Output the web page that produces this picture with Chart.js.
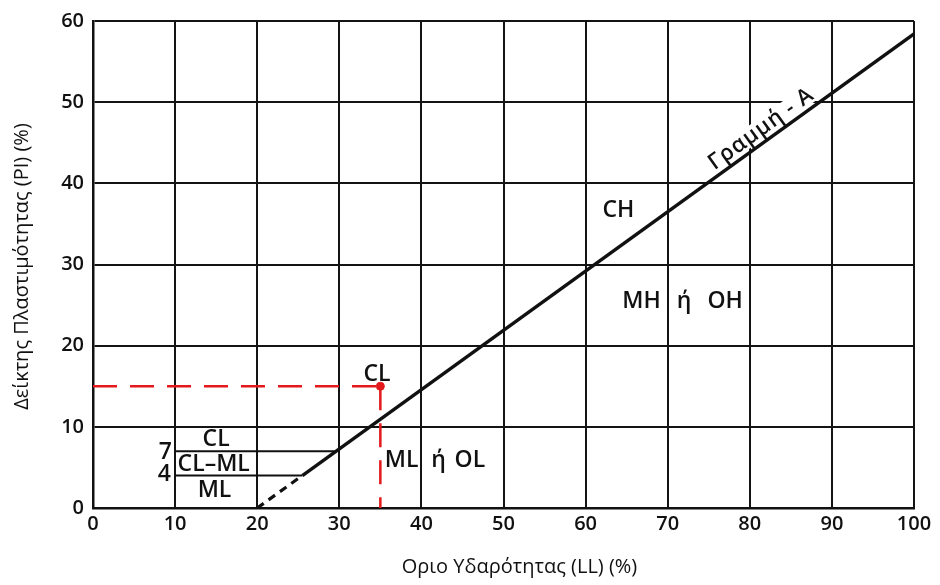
<!DOCTYPE html>
<html>
<head>
<meta charset="utf-8">
<script src="https://cdn.jsdelivr.net/npm/chart.js@4/dist/chart.umd.min.js"></script>
<style>
  html, body { margin: 0; padding: 0; background: #fff; }
  #wrap { width: 940px; height: 585px; }
</style>
</head>
<body>
<div id="wrap"><canvas id="plasticity" width="940" height="585"></canvas></div>
<script>
// Axis ticks
const llTicks = [0, 10, 20, 30, 40, 50, 60, 70, 80, 90, 100];
const piTicks = [0, 10, 20, 30, 40, 50, 60];

// A-line (solid part) and its dashed extension to the LL axis
const aLineLL = [25.5, 100];
const aLinePI = [4, 58.4];
const aLineExtLL = [20, 25.5];
const aLineExtPI = [0, 4];

// CL-ML band limits (PI = 7 and PI = 4)
const band7LL = [10, 29.6];
const band7PI = [7, 7];
const band4LL = [10, 25.5];
const band4PI = [4, 4];

// Sample soil point and its guide lines
const sampleLL = [35];
const samplePI = [15];
const guideHLL = [0, 35];
const guideHPI = [15, 15];
const guideVLL = [35, 35];
const guideVPI = [15, 0];

// Zone labels (word by word, centred on LL / PI)
const zoneText = ['CL', 'CL', 'CL–ML', 'ML', '7', '4', 'ML', 'ή', 'OL', 'CH', 'MH', 'ή', 'OH'];
const zoneLL   = [34.6, 15.0, 14.7, 14.8, 8.8, 8.7, 37.6, 42.1, 45.9, 64.0, 66.8, 72.0, 77.0];
const zonePI   = [16.5, 8.5, 5.4, 2.2, 6.8, 4.1, 5.9, 5.9, 5.9, 36.6, 25.5, 25.5, 25.5];

// A-line caption position
const aCaption = 'Γραμμή - A';
const aCaptionLL = 81.4;
const aCaptionPI = 46.7;

// Axis titles
const llTitle = 'Οριο Υδαρότητας (LL) (%)';
const piTitle = 'Δείκτης Πλαστιμότητας (PI) (%)';

const pts = (xs, ys) => xs.map((x, i) => ({ x: x, y: ys[i] }));

const FONT = '"Open Sans", "Liberation Sans", Arial, sans-serif';
const INK = '#111';
const RED = '#e3191c';
const CAPTION_FONT = '600 22px ' + FONT;

function captionFrame(chart) {
  const { x, y } = chart.scales;
  const x0 = x.getPixelForValue(aLineLL[0]), y0 = y.getPixelForValue(aLinePI[0]);
  const x1 = x.getPixelForValue(aLineLL[1]), y1 = y.getPixelForValue(aLinePI[1]);
  return {
    cx: x.getPixelForValue(aCaptionLL),
    cy: y.getPixelForValue(aCaptionPI),
    ang: Math.atan2(y1 - y0, x1 - x0)
  };
}

const textPlugin = {
  id: 'chartText',
  // white knock-out behind the A-line caption, above the grid and below the lines
  beforeDatasetsDraw(chart) {
    const { ctx } = chart;
    const f = captionFrame(chart);
    ctx.save();
    ctx.font = CAPTION_FONT;
    ctx.letterSpacing = '1px';
    const w = ctx.measureText(aCaption).width;
    ctx.translate(f.cx, f.cy);
    ctx.rotate(f.ang);
    ctx.fillStyle = '#fff';
    ctx.fillRect(-w / 2 - 3, -10, w + 6, 19);
    ctx.restore();
  },
  afterDatasetsDraw(chart) {
    const { ctx, chartArea: area, scales: { x, y } } = chart;
    ctx.save();
    ctx.fillStyle = INK;
    ctx.textAlign = 'center';
    ctx.textBaseline = 'middle';
    ctx.font = '600 23px ' + FONT;
    zoneText.forEach((t, i) => {
      ctx.fillText(t, x.getPixelForValue(zoneLL[i]), y.getPixelForValue(zonePI[i]));
    });

    // caption laid along the A-line
    const f = captionFrame(chart);
    ctx.save();
    ctx.font = CAPTION_FONT;
    ctx.letterSpacing = '1px';
    ctx.translate(f.cx, f.cy);
    ctx.rotate(f.ang);
    ctx.fillText(aCaption, 0, 0);
    ctx.restore();

    // axis titles
    ctx.font = '500 20px ' + FONT;
    ctx.fillText(llTitle, (area.left + area.right) / 2 + 16, chart.height - 18);
    ctx.translate(22, (area.top + area.bottom) / 2 + 2);
    ctx.rotate(-Math.PI / 2);
    ctx.fillText(piTitle, 0, 0);
    ctx.restore();
  }
};

new Chart(document.getElementById('plasticity'), {
  type: 'scatter',
  data: {
    datasets: [
      { data: pts(guideHLL, guideHPI), showLine: true, borderColor: RED, borderWidth: 2.5, borderDash: [24, 13], pointRadius: 0 },
      { data: pts(guideVLL, guideVPI), showLine: true, borderColor: RED, borderWidth: 2.5, borderDash: [24, 13], pointRadius: 0 },
      { data: pts(band7LL, band7PI), showLine: true, borderColor: INK, borderWidth: 2, pointRadius: 0 },
      { data: pts(band4LL, band4PI), showLine: true, borderColor: INK, borderWidth: 2, pointRadius: 0 },
      { data: pts(aLineExtLL, aLineExtPI), showLine: true, borderColor: INK, borderWidth: 3.2, borderDash: [8, 6], pointRadius: 0 },
      { data: pts(aLineLL, aLinePI), showLine: true, borderColor: INK, borderWidth: 3.4, pointRadius: 0 },
      { data: pts(sampleLL, samplePI), showLine: false, backgroundColor: RED, borderColor: RED, pointRadius: 4 }
    ]
  },
  options: {
    responsive: false,
    animation: false,
    devicePixelRatio: 1,
    layout: { padding: { top: 19, right: 26, left: 0, bottom: 0 } },
    plugins: { legend: { display: false }, tooltip: { enabled: false } },
    scales: {
      x: {
        type: 'linear', min: 0, max: 100,
        afterBuildTicks: s => { s.ticks = llTicks.map(v => ({ value: v })); },
        afterFit: s => { s.height = 77; },
        grid: { color: '#141414', lineWidth: 2, drawTicks: false },
        border: { color: '#111', width: 2.5 },
        ticks: { color: INK, font: { family: FONT, size: 20, weight: '600' }, padding: 4, maxRotation: 0 },
        title: { display: false }
      },
      y: {
        type: 'linear', min: 0, max: 60,
        afterBuildTicks: s => { s.ticks = piTicks.map(v => ({ value: v })); },
        afterFit: s => { s.width = 93; },
        grid: { color: '#141414', lineWidth: 2, drawTicks: false },
        border: { color: '#111', width: 2.5 },
        ticks: { color: INK, font: { family: FONT, size: 20, weight: '600' }, padding: 9 },
        title: { display: false }
      }
    }
  },
  plugins: [textPlugin]
});
</script>
</body>
</html>
